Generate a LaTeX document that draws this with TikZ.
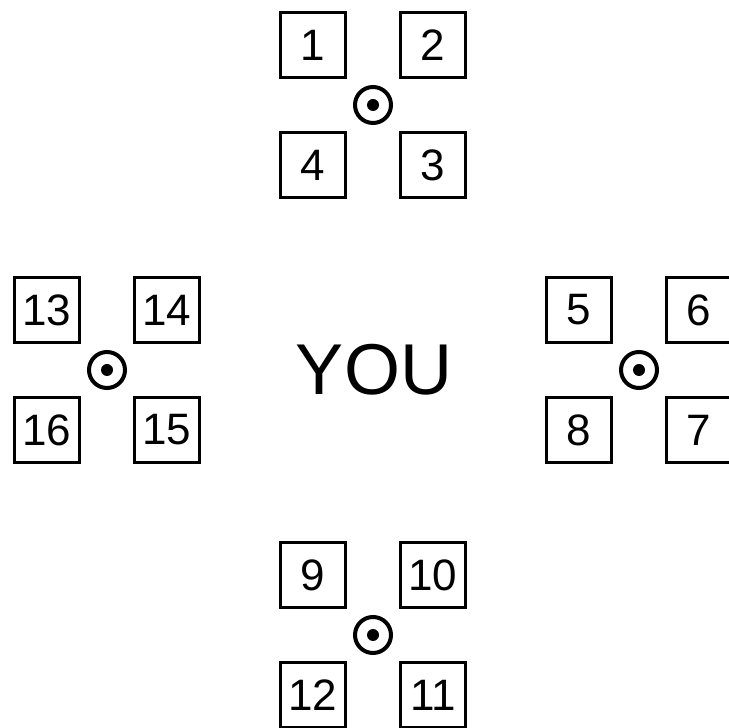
\documentclass[tikz,border=0pt]{standalone}
\usepackage{fontspec}
\setmainfont{Liberation Sans}
\usetikzlibrary{positioning}

\begin{document}
\begin{tikzpicture}[
  x=1pt,y=1pt,
  node distance=60pt and 60pt,
  on grid,
  box/.style={draw,line width=3.5pt,minimum size=65pt,inner sep=0pt,font=\fontsize{44}{44}\selectfont},
  hub/.style={circle,draw,line width=4pt,minimum size=36pt,inner sep=0pt,
    path picture={\fill (path picture bounding box.center) circle (6pt);}}
]
\useasboundingbox (0,0) rectangle (728,728);
\node[font=\fontsize{72}{72}\selectfont] (you) at (374,358) {YOU};
% top group
\node[hub] (top) at (373,623) {};
\node[box,above left=of top] (b1) {1};
\node[box,above right=of top] (b2) {2};
\node[box,below right=of top] (b3) {3};
\node[box,below left=of top] (b4) {4};
% right group
\node[hub] (right) at (639,358) {};
\node[box,above left=of right] (b5) {5};
\node[box,above right=of right] (b6) {6};
\node[box,below right=of right] (b7) {7};
\node[box,below left=of right] (b8) {8};
% bottom group
\node[hub] (bottom) at (373,93) {};
\node[box,above left=of bottom] (b9) {9};
\node[box,above right=of bottom] (b10) {10};
\node[box,below right=of bottom] (b11) {11};
\node[box,below left=of bottom] (b12) {12};
% left group
\node[hub] (left) at (107,358) {};
\node[box,above left=of left] (b13) {13};
\node[box,above right=of left] (b14) {14};
\node[box,below right=of left] (b15) {15};
\node[box,below left=of left] (b16) {16};
\end{tikzpicture}
\end{document}
